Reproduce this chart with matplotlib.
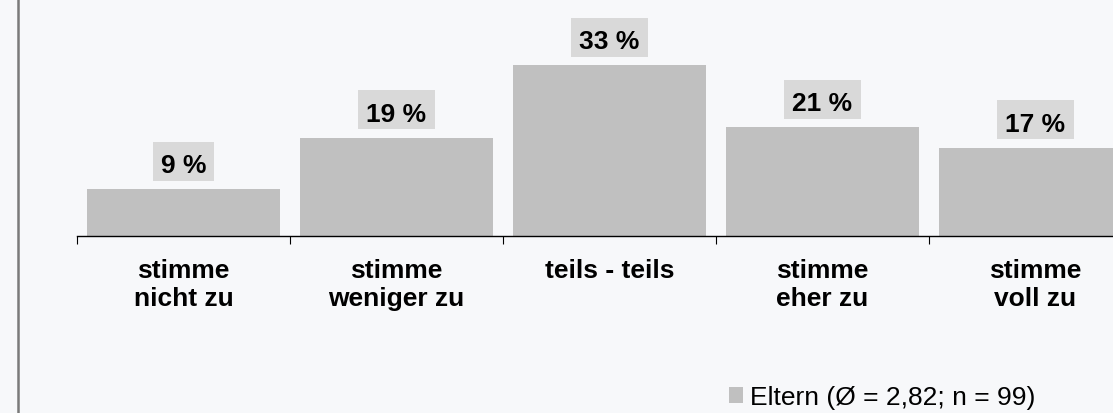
import matplotlib
matplotlib.use("Agg")
import matplotlib.pyplot as plt
from matplotlib.patches import Patch, Rectangle
from matplotlib.lines import Line2D
from matplotlib.transforms import IdentityTransform

kategorien = ["stimme\nnicht zu", "stimme\nweniger zu", "teils - teils", "stimme\neher zu", "stimme\nvoll zu"]
werte = [9, 19, 33, 21, 17]
legende = "Eltern (Ø = 2,82; n = 99)"

plt.rcParams['font.family'] = ['Liberation Sans', 'DejaVu Sans']

hintergrund = "#f7f8fa"
balken_farbe = "#c0c0c0"
box_farbe = "#d9d9d9"
fs = 19

W, H = 1113, 414
fig = plt.figure(figsize=(W / 100, H / 100), dpi=100, facecolor=hintergrund)
ax = fig.add_axes([77 / W, 177 / H, (W - 77) / W, 237 / H])
ax.set_facecolor("none")

x = list(range(len(werte)))
ax.bar(x, werte, width=0.91, color=balken_farbe, zorder=2)

for s in ["top", "right", "left"]:
    ax.spines[s].set_visible(False)
ax.spines["bottom"].set_linewidth(1.0)
ax.set_yticks([])
ax.set_xticks([i - 0.5 for i in range(len(werte) + 1)])
ax.set_xticklabels([])
ax.tick_params(axis="x", direction="out", length=5.8, width=0.8, color="black")

# Achse: 213 px pro Kategorie, rechter Rand abgeschnitten
ax.set_xlim(-0.5, -0.5 + (W - 77) / 213)
ax.set_ylim(0, 237 / 5.18)

for i, k in enumerate(kategorien):
    ax.annotate(k, xy=(i, 0), xytext=(0, -22), textcoords="offset pixels",
                ha="center", va="top", fontsize=fs, fontweight="bold",
                annotation_clip=False)

texte = []
for i, v in enumerate(werte):
    t = ax.annotate(f"{v} %", xy=(i, v), xytext=(0, 17), textcoords="offset pixels",
                    ha="center", va="baseline", fontsize=fs, fontweight="bold", zorder=4)
    texte.append(t)

fig.canvas.draw()
r = fig.canvas.get_renderer()
for i, (t, v) in enumerate(zip(texte, werte)):
    bb = t.get_window_extent(r)
    yb = ax.transData.transform((i, v))[1] + 17
    ax.add_patch(Rectangle((bb.x0 - 8, yb - 8.5), bb.width + 16, 39,
                           transform=IdentityTransform(), facecolor=box_farbe,
                           edgecolor="none", zorder=3, clip_on=False))

fig.add_artist(Line2D([18 / W, 18 / W], [0, 1], color="#7a7a7a", lw=1.8))

fig.legend(handles=[Patch(facecolor=balken_farbe, edgecolor="none")], labels=[legende],
           loc="lower left", bbox_to_anchor=(729 / W, 3.5 / H), frameon=False,
           borderpad=0, borderaxespad=0, handlelength=0.53, handleheight=0.53,
           handletextpad=0.27, fontsize=fs)

fig.savefig("out.png", dpi=100, facecolor=hintergrund)
